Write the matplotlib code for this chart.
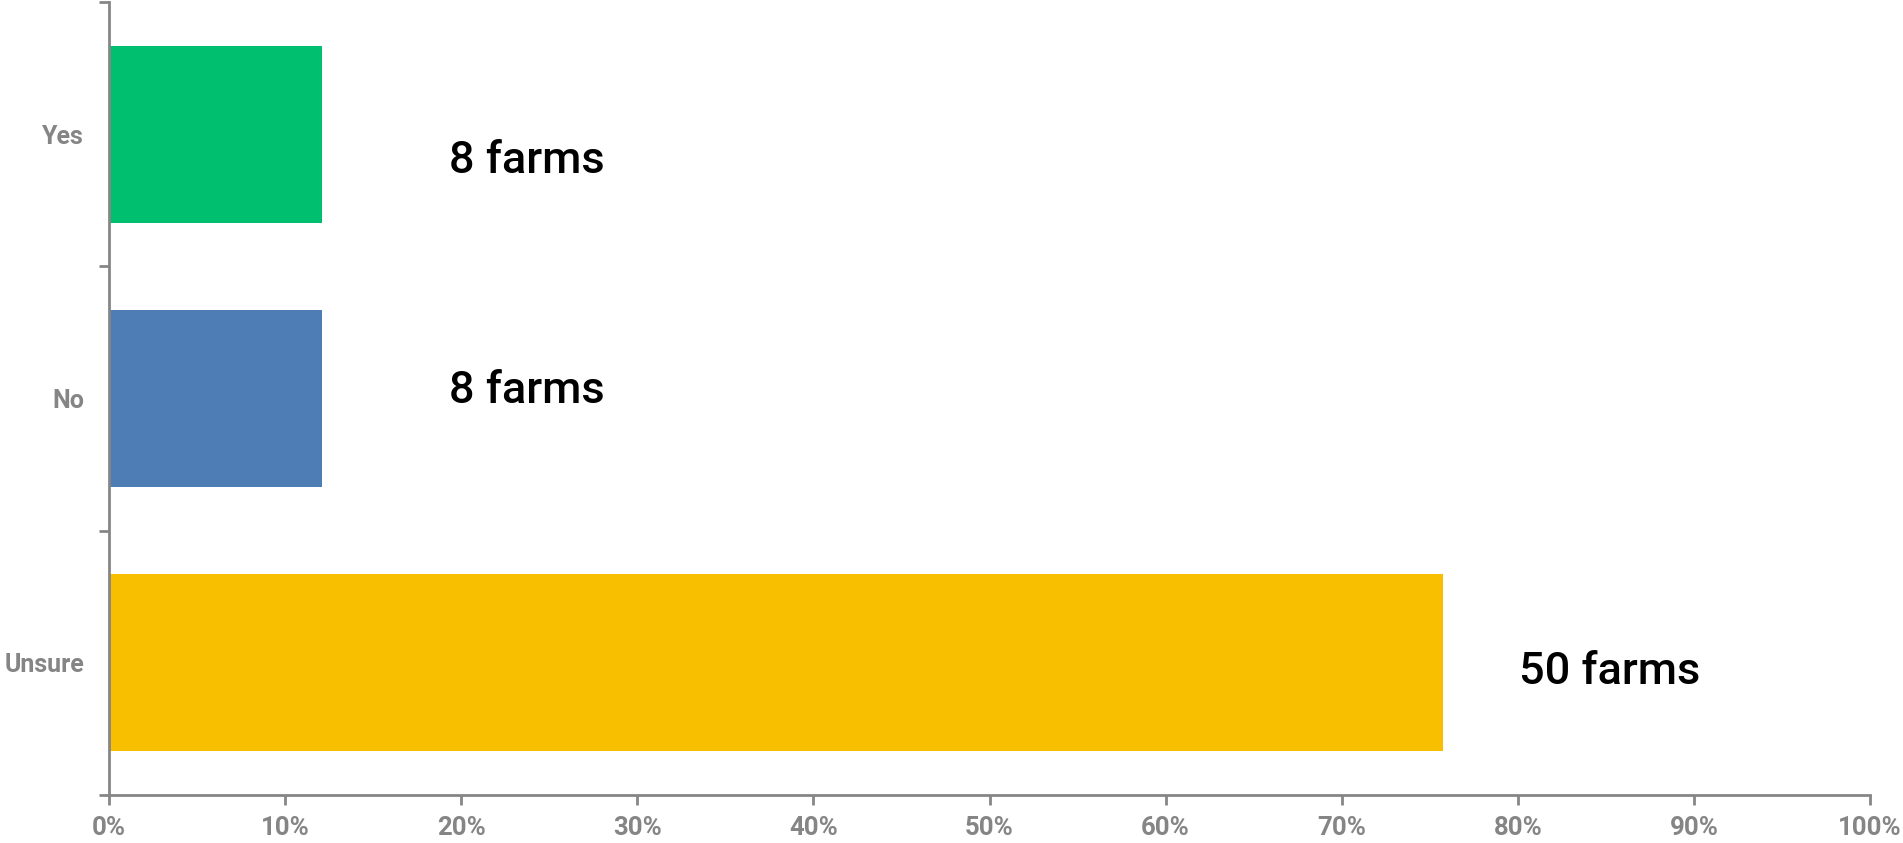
import matplotlib
matplotlib.use("Agg")
import matplotlib.pyplot as plt
from matplotlib.ticker import FixedLocator, FuncFormatter

categories = ["Unsure", "No", "Yes"]
farm_counts = [50, 8, 8]
colors = ["#F8BE00", "#4E7CB5", "#00BF6F"]
label_texts = ["50 farms", "8 farms", "8 farms"]
xtick_values = [0, 10, 20, 30, 40, 50, 60, 70, 80, 90, 100]

total = sum(farm_counts)
percents = [c / total * 100 for c in farm_counts]

FONT = ["Roboto", "DejaVu Sans"]

fig = plt.figure(figsize=(19.03, 8.43), dpi=100)
ax = fig.add_axes([109/1903, 1 - 795/843, (1870 - 109)/1903, (795 - 2)/843])

ypos = list(range(len(categories)))
ax.barh(ypos, percents, height=0.67, color=colors, zorder=2)

ax.set_xlim(0, 100)
ax.set_ylim(-0.5, 2.5)

gray = "#868686"
for s in ["top", "right"]:
    ax.spines[s].set_visible(False)
for s in ["left", "bottom"]:
    ax.spines[s].set_color(gray)
    ax.spines[s].set_linewidth(2)

ax.set_xticks(xtick_values)
ax.xaxis.set_major_formatter(FuncFormatter(lambda v, p: f"{int(v)}%"))
ax.tick_params(axis="x", colors=gray, length=7, width=2, labelsize=18.5, pad=8)
for t in ax.get_xticklabels():
    t.set_color("#858585")
    t.set_fontfamily(FONT)
    t.set_fontweight("bold")

# boundary ticks (major, no labels) and category labels (minor)
ax.yaxis.set_major_locator(FixedLocator([-0.5, 0.5, 1.5, 2.5]))
ax.yaxis.set_major_formatter(FuncFormatter(lambda v, p: ""))
ax.yaxis.set_minor_locator(FixedLocator(ypos))
ax.set_yticklabels(categories, minor=True)
ax.tick_params(axis="y", which="major", colors=gray, length=7, width=2)
ax.tick_params(axis="y", which="minor", length=0, pad=18, labelsize=18, labelcolor="#858585")
for t in ax.get_yticklabels(minor=True):
    t.set_fontfamily(FONT)
    t.set_fontweight("bold")

# value labels
label_dx = [4.3, 7.2, 7.2]
label_dy = [-0.035, 0.03, -0.10]
for i, (p, txt) in enumerate(zip(percents, label_texts)):
    ax.text(p + label_dx[i], ypos[i] + label_dy[i], txt, fontsize=32.5,
            family=FONT, fontweight="medium",
            color="black", va="center", ha="left")

fig.savefig("out.png", dpi=100, facecolor="white")
